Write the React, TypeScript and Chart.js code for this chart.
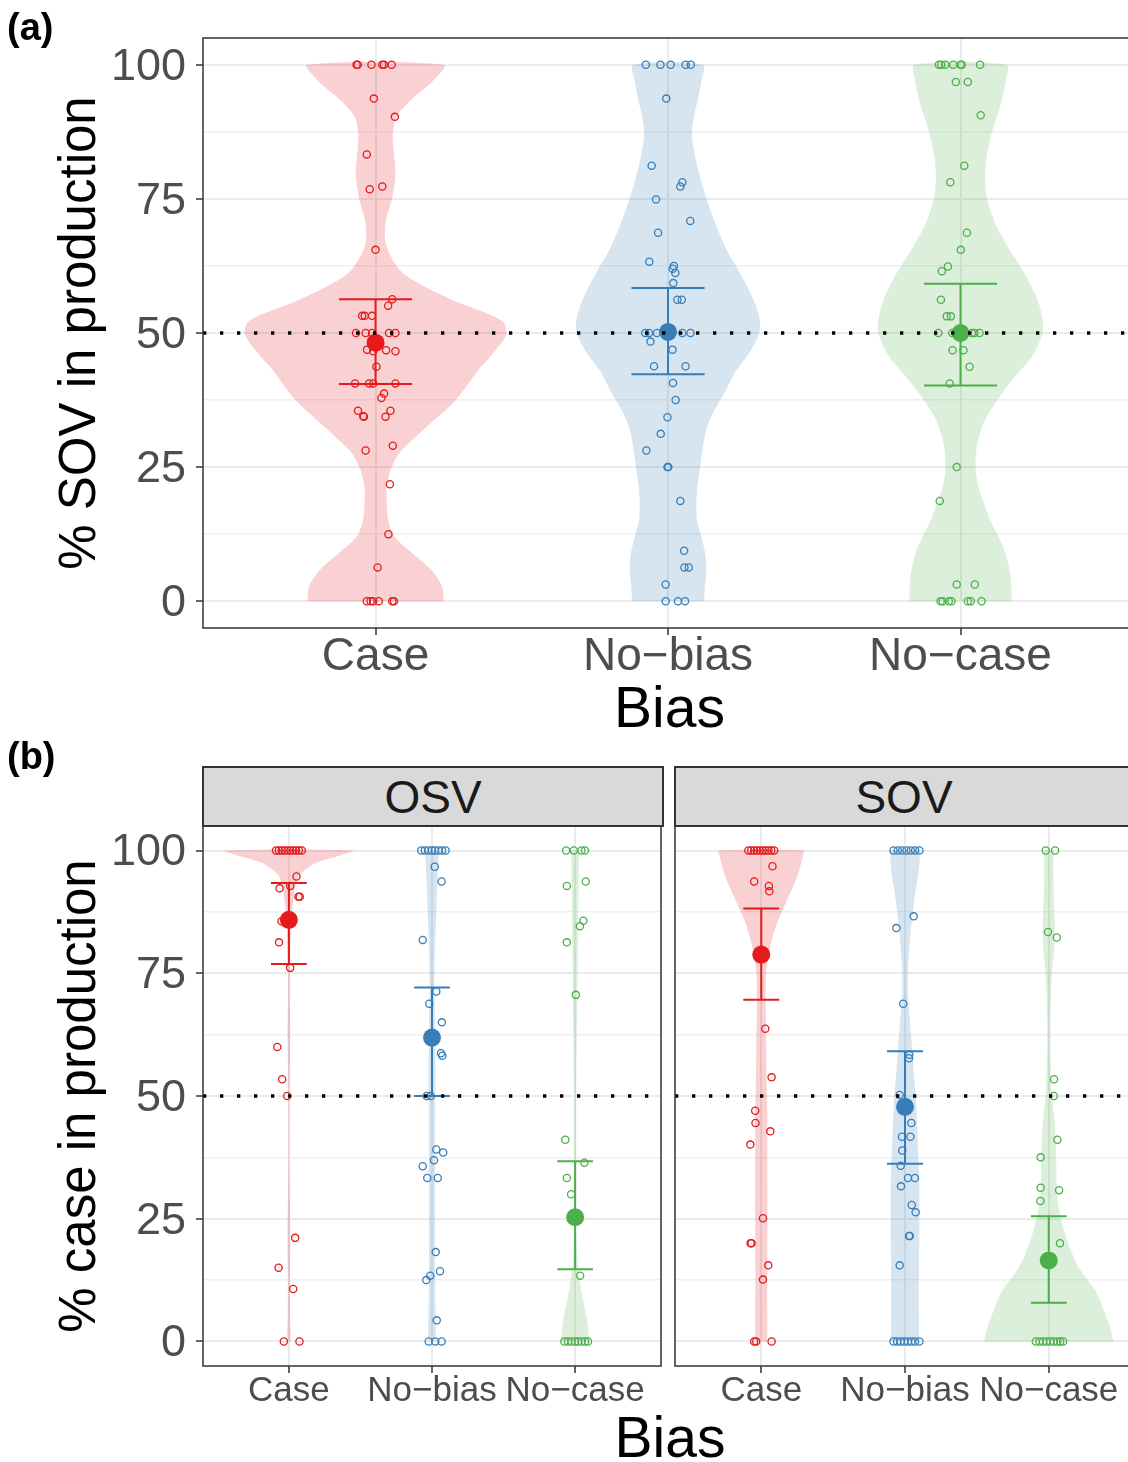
import React, { useEffect, useRef } from 'react';
import { Chart, registerables } from 'chart.js';

Chart.register(...registerables);

const FONT = '"Liberation Sans", Arial, Helvetica, sans-serif';
Chart.defaults.font.family = FONT;

// ---------- shared ----------
const categories = ['Case', 'No\u2212bias', 'No\u2212case'];
const COLORS = ['#E41A1C', '#377EB8', '#4DAF4A'];
const FILLS = ['rgba(228,26,28,0.2)', 'rgba(55,126,184,0.2)', 'rgba(77,175,74,0.2)'];
const yTickValues = [0, 12.5, 25, 37.5, 50, 62.5, 75, 87.5, 100];
const referenceLevel = 50;

// ---------- panel (a): % SOV in production ----------
const levelsA = [0, 2.7, 5.8, 8.9, 12, 15.1, 18.2, 21.3, 24.4, 27.5, 30.6, 33.7, 36.8, 39.9, 43, 46.1, 49.8, 52.3, 56.1, 61, 66, 70.4, 75.3, 79.6, 84, 87.1, 90.2, 93.3, 97, 100];
const caseWidthA = [0.233, 0.228, 0.191, 0.127, 0.065, 0.043, 0.038, 0.038, 0.051, 0.08, 0.137, 0.199, 0.262, 0.309, 0.35, 0.4, 0.447, 0.432, 0.265, 0.097, 0.038, 0.034, 0.057, 0.068, 0.062, 0.059, 0.071, 0.118, 0.196, 0.234];
const noBiasWidthA = [0.123, 0.126, 0.131, 0.127, 0.114, 0.099, 0.097, 0.1, 0.108, 0.116, 0.125, 0.142, 0.171, 0.203, 0.233, 0.276, 0.311, 0.314, 0.293, 0.248, 0.196, 0.162, 0.13, 0.107, 0.089, 0.082, 0.088, 0.101, 0.114, 0.119];
const noCaseWidthA = [0.174, 0.174, 0.168, 0.154, 0.13, 0.102, 0.08, 0.061, 0.052, 0.053, 0.063, 0.083, 0.117, 0.157, 0.205, 0.25, 0.28, 0.281, 0.264, 0.22, 0.163, 0.119, 0.09, 0.084, 0.093, 0.106, 0.123, 0.141, 0.155, 0.157];

const caseValuesA = [100, 100, 100, 100, 100, 100, 93.7, 90.3, 83.3, 76.8, 77.3, 65.5, 56.3, 55.1, 53.2, 53.2, 53.2, 50, 50, 50, 50, 50, 46.9, 46.6, 46.8, 46.6, 43.7, 40.6, 40.6, 40.6, 40.6, 38.7, 37.9, 35.5, 34.4, 34.5, 35.5, 34.4, 28.1, 29.0, 21.8, 12.5, 6.3, 0, 0, 0, 0, 0, 0];
const caseJitterA = [-0.065, -0.061, -0.014, 0.023, 0.029, 0.055, -0.006, 0.066, -0.03, -0.02, 0.023, 0.0, 0.057, 0.043, -0.046, -0.037, -0.012, -0.067, -0.034, -0.012, 0.046, 0.068, -0.029, -0.008, 0.036, 0.068, 0.003, -0.07, -0.022, -0.008, 0.068, 0.029, 0.02, -0.06, -0.04, -0.042, 0.051, 0.034, -0.034, 0.059, 0.049, 0.044, 0.007, -0.03, -0.017, -0.008, 0.011, 0.057, 0.063];
const noBiasValuesA = [100, 100, 100, 100, 100, 93.7, 81.2, 78.1, 77.3, 74.9, 70.9, 68.7, 63.3, 62.5, 62.0, 61.2, 59.3, 56.2, 56.2, 50, 50, 50, 50, 50, 48.4, 46.9, 43.8, 43.8, 40.7, 37.5, 34.3, 31.2, 28.1, 25.0, 25.0, 18.7, 9.4, 6.3, 6.3, 3.1, 0, 0, 0];
const noBiasJitterA = [-0.076, -0.026, 0.009, 0.06, 0.078, -0.006, -0.056, 0.049, 0.042, -0.041, 0.076, -0.034, -0.064, 0.02, 0.016, 0.025, 0.018, 0.032, 0.047, -0.078, -0.065, -0.038, 0.049, 0.077, -0.06, 0.015, -0.048, 0.06, 0.017, 0.026, -0.002, -0.025, -0.074, -0.002, 0.001, 0.042, 0.055, 0.056, 0.071, -0.008, -0.008, 0.034, 0.058];
const noCaseValuesA = [100, 100, 100, 100, 100, 100, 100, 96.8, 96.8, 90.6, 81.2, 78.1, 68.7, 65.5, 62.4, 61.5, 56.2, 53.1, 53.1, 50, 50, 50, 50, 50, 50, 46.8, 46.8, 43.7, 40.6, 25.0, 18.7, 3.1, 3.1, 0, 0, 0, 0, 0, 0, 0];
const noCaseJitterA = [-0.074, -0.066, -0.052, -0.025, 0.0, 0.004, 0.067, -0.016, 0.025, 0.069, 0.013, -0.035, 0.022, 0.001, -0.043, -0.064, -0.067, -0.047, -0.033, -0.076, -0.028, 0.01, 0.039, 0.048, 0.065, -0.027, 0.01, 0.031, -0.037, -0.013, -0.071, -0.013, 0.049, -0.068, -0.061, -0.04, -0.031, 0.025, 0.035, 0.072];

const meansA = [48.2, 50.2, 50.0];
const lowerA = [40.5, 42.3, 40.2];
const upperA = [56.3, 58.4, 59.2];

// ---------- panel (b): % case in production ----------
const levelsB = [0, 2.5, 5, 10, 15, 20, 25, 30, 35, 40, 45, 50, 55, 60, 65, 70, 75, 80, 85, 90, 92.5, 95, 97.5, 99, 100];
const osvCaseWidth = [0.012, 0.011, 0.009, 0.007, 0.008, 0.01, 0.009, 0.006, 0.004, 0.003, 0.003, 0.004, 0.006, 0.009, 0.009, 0.006, 0.006, 0.01, 0.014, 0.031, 0.045, 0.075, 0.19, 0.36, 0.448];
const osvNoBiasWidth = [0.026, 0.026, 0.025, 0.023, 0.022, 0.021, 0.021, 0.021, 0.022, 0.022, 0.022, 0.023, 0.024, 0.023, 0.021, 0.018, 0.017, 0.021, 0.027, 0.033, 0.036, 0.04, 0.044, 0.047, 0.048];
const osvNoCaseWidth = [0.098, 0.092, 0.08, 0.045, 0.02, 0.01, 0.008, 0.008, 0.008, 0.008, 0.008, 0.008, 0.009, 0.011, 0.013, 0.015, 0.017, 0.019, 0.021, 0.023, 0.024, 0.025, 0.026, 0.027, 0.027];
const sovCaseWidth = [0.042, 0.042, 0.042, 0.041, 0.041, 0.042, 0.043, 0.043, 0.042, 0.042, 0.042, 0.039, 0.036, 0.035, 0.032, 0.031, 0.034, 0.059, 0.107, 0.18, 0.22, 0.254, 0.278, 0.29, 0.296];
const sovNoBiasWidth = [0.098, 0.098, 0.097, 0.096, 0.097, 0.099, 0.1, 0.1, 0.097, 0.09, 0.083, 0.075, 0.06, 0.048, 0.035, 0.022, 0.02, 0.03, 0.045, 0.065, 0.078, 0.092, 0.1, 0.103, 0.104];
const sovNoCaseWidth = [0.45, 0.43, 0.4, 0.33, 0.21, 0.135, 0.085, 0.058, 0.053, 0.05, 0.04, 0.022, 0.015, 0.011, 0.011, 0.014, 0.022, 0.038, 0.042, 0.035, 0.033, 0.032, 0.032, 0.032, 0.032];

const osvCaseValues = [100, 100, 100, 100, 100, 100, 100, 100, 100, 100, 94.7, 92.8, 92.3, 90.6, 90.6, 85.6, 81.3, 76.1, 60.0, 53.4, 50.0, 21.1, 15.0, 10.7, 0, 0];
const osvCaseJitter = [-0.09, -0.07, -0.05, -0.03, -0.01, 0.01, 0.03, 0.05, 0.07, 0.09, 0.053, 0.009, -0.065, 0.067, 0.076, -0.051, -0.069, 0.009, -0.081, -0.047, -0.012, 0.044, -0.072, 0.03, -0.035, 0.074];
const osvNoBiasValues = [100, 100, 100, 100, 100, 100, 100, 100, 96.7, 93.7, 81.8, 71.3, 68.8, 65.0, 58.7, 58.2, 50, 50, 39.1, 38.5, 36.9, 35.7, 33.3, 33.3, 18.2, 14.3, 13.4, 12.5, 4.3, 0, 0, 0];
const osvNoBiasJitter = [-0.075, -0.05, -0.025, 0, 0.02, 0.045, 0.07, 0.095, 0.019, 0.067, -0.065, 0.03, -0.019, 0.069, 0.063, 0.072, -0.037, -0.009, 0.03, 0.078, 0.014, -0.065, -0.033, 0.04, 0.026, 0.056, -0.012, -0.04, 0.033, -0.023, 0.023, 0.067];
const osvNoCaseValues = [100, 100, 100, 100, 93.7, 92.8, 85.7, 84.6, 81.3, 70.6, 41.1, 36.4, 33.3, 30.0, 13.4, 0, 0, 0, 0, 0, 0, 0, 0];
const osvNoCaseJitter = [-0.063, -0.009, 0.044, 0.069, 0.074, -0.058, 0.058, 0.033, -0.058, 0.005, -0.069, 0.065, -0.058, -0.028, 0.035, -0.075, -0.05, -0.025, 0, 0.02, 0.045, 0.07, 0.09];

const sovCaseValues = [100, 100, 100, 100, 100, 100, 100, 100, 100, 100, 96.8, 93.7, 92.8, 91.7, 63.7, 53.8, 47.0, 44.5, 42.8, 40.1, 25.1, 20.0, 20.0, 15.5, 12.6, 0, 0, 0];
const sovCaseJitter = [-0.09, -0.07, -0.05, -0.03, -0.01, 0.01, 0.03, 0.05, 0.07, 0.09, 0.078, -0.049, 0.053, 0.056, 0.028, 0.072, -0.042, -0.04, 0.063, -0.076, 0.012, -0.074, -0.067, 0.049, 0.012, -0.049, -0.035, 0.072];
const sovNoBiasValues = [100, 100, 100, 100, 100, 100, 100, 86.6, 84.2, 68.8, 58.4, 57.7, 50.2, 44.5, 41.7, 41.7, 38.9, 35.8, 33.3, 33.3, 31.6, 27.8, 26.3, 21.5, 21.5, 15.5, 0, 0, 0, 0, 0, 0, 0, 0];
const sovNoBiasJitter = [-0.08, -0.05, -0.02, 0.01, 0.04, 0.07, 0.1, 0.06, -0.06, -0.012, 0.03, 0.028, -0.037, 0.044, -0.021, 0.037, -0.019, -0.03, 0.021, 0.069, -0.028, 0.047, 0.074, 0.028, 0.033, -0.037, -0.08, -0.055, -0.03, -0.005, 0.02, 0.045, 0.07, 0.1];
const sovNoCaseValues = [100, 100, 83.4, 82.3, 53.4, 50.0, 41.1, 37.5, 31.3, 30.8, 28.6, 20.0, 0, 0, 0, 0, 0, 0, 0, 0, 0];
const sovNoCaseJitter = [-0.021, 0.044, -0.005, 0.056, 0.037, 0.035, 0.06, -0.056, -0.056, 0.072, -0.058, 0.078, -0.09, -0.065, -0.04, -0.015, 0.01, 0.035, 0.06, 0.08, 0.1];

const meansOSV = [85.9, 61.9, 25.3];
const lowerOSV = [76.9, 50.0, 14.7];
const upperOSV = [93.4, 72.1, 36.7];
const meansSOV = [78.8, 47.8, 16.5];
const lowerSOV = [69.6, 36.2, 7.9];
const upperSOV = [88.2, 59.1, 25.5];

// ---------- helpers ----------
interface Group { values: number[]; jitter: number[]; widths: number[] }

function violinOutline(center: number, levels: number[], widths: number[]) {
  const pts: { x: number; y: number }[] = [];
  for (let k = 0; k < levels.length; k++) pts.push({ x: center + widths[k], y: levels[k] });
  for (let k = levels.length - 1; k >= 0; k--) pts.push({ x: center - widths[k], y: levels[k] });
  return pts;
}

const CAP = 0.125;
function errorBarPath(center: number, lo: number, hi: number) {
  return [
    { x: center - CAP, y: hi }, { x: center + CAP, y: hi }, { x: center, y: null },
    { x: center, y: hi }, { x: center, y: lo }, { x: center, y: null },
    { x: center - CAP, y: lo }, { x: center + CAP, y: lo },
  ];
}

const framePlugin = {
  id: 'panelFrame',
  afterDraw(chart: any) {
    const { ctx, chartArea: a } = chart;
    ctx.save();
    ctx.strokeStyle = '#333333';
    ctx.lineWidth = 1.5;
    ctx.strokeRect(a.left, a.top, a.right - a.left, a.bottom - a.top);
    ctx.restore();
  },
};

interface PanelSpec {
  groups: Group[]; levels: number[]; means: number[]; lowers: number[]; uppers: number[];
  xMin: number; xMax: number; padding: any; yWidth: number; xHeight: number;
  showY: boolean; yTitle?: string; xTitle?: string; xFont: number; xPad: number;
}

function panelConfig(p: PanelSpec): any {
  const datasets: any[] = [];
  datasets.push({
    type: 'line', data: [{ x: p.xMin, y: referenceLevel }, { x: p.xMax, y: referenceLevel }],
    borderColor: '#000000', borderWidth: 3.3, borderDash: [3.3, 13.7], borderCapStyle: 'butt',
    pointRadius: 0, fill: false, order: 0,
  });
  p.groups.forEach((g, i) => {
    const c = i + 1;
    datasets.push({
      type: 'line', data: violinOutline(c, p.levels, g.widths), fill: 'shape',
      backgroundColor: FILLS[i], borderColor: 'rgba(0,0,0,0)', borderWidth: 0,
      pointRadius: 0, tension: 0.3, order: 5,
    });
    datasets.push({
      type: 'scatter', data: g.values.map((v, k) => ({ x: c + g.jitter[k], y: v })),
      pointRadius: 3.6, borderWidth: 1.3, borderColor: COLORS[i], backgroundColor: 'rgba(0,0,0,0)', order: 3,
    });
    datasets.push({
      type: 'line', data: errorBarPath(c, p.lowers[i], p.uppers[i]), borderColor: COLORS[i],
      borderWidth: 2, pointRadius: 0, spanGaps: false, tension: 0, fill: false, order: 2,
    });
    datasets.push({
      type: 'scatter', data: [{ x: c, y: p.means[i] }], pointRadius: 9, borderWidth: 0,
      backgroundColor: COLORS[i], borderColor: COLORS[i], order: 1,
    });
  });

  return {
    type: 'scatter',
    data: { datasets },
    plugins: [framePlugin],
    options: {
      responsive: false, animation: false, events: [],
      layout: { padding: p.padding },
      plugins: { legend: { display: false }, tooltip: { enabled: false }, title: { display: false } },
      scales: {
        x: {
          type: 'linear', min: p.xMin, max: p.xMax,
          afterBuildTicks: (s: any) => { s.ticks = [1, 2, 3].map((v) => ({ value: v })); },
          afterFit: (s: any) => { s.height = p.xHeight; },
          ticks: {
            autoSkip: false, maxRotation: 0, minRotation: 0,
            callback: (v: any) => categories[Math.round(Number(v)) - 1] ?? '',
            font: { family: FONT, size: p.xFont, lineHeight: 1 }, color: '#4D4D4D', padding: p.xPad,
          },
          grid: { color: '#EBEBEB', lineWidth: 2, drawTicks: true, tickLength: 7, tickWidth: 1.5, tickColor: '#333333' },
          border: { display: false },
          title: p.xTitle
            ? { display: true, text: p.xTitle, font: { family: FONT, size: 57 }, color: '#000000', padding: { top: 0, bottom: 0 } }
            : { display: false },
        },
        y: {
          type: 'linear', min: -5, max: 105,
          afterBuildTicks: (s: any) => { s.ticks = yTickValues.map((v) => ({ value: v })); },
          afterFit: (s: any) => { s.width = p.yWidth; },
          ticks: {
            display: p.showY, autoSkip: false,
            callback: (v: any) => (Number(v) % 25 === 0 ? String(v) : ''),
            font: { family: FONT, size: 45, lineHeight: 1 }, color: '#4D4D4D', padding: 10, labelOffset: 2.5,
          },
          grid: {
            color: (c: any) => (c.tick && c.tick.value % 25 === 0 ? '#EBEBEB' : '#F0F0F0'),
            lineWidth: (c: any) => (c.tick && c.tick.value % 25 === 0 ? 2 : 1.5),
            drawTicks: p.showY, tickLength: 7, tickWidth: 1.5,
            tickColor: (c: any) => (c.tick && c.tick.value % 25 === 0 ? '#333333' : 'rgba(0,0,0,0)'),
          },
          border: { display: false },
          title: p.yTitle
            ? { display: true, text: p.yTitle, font: { family: FONT, size: 51 }, color: '#000000', padding: { top: 50, bottom: 0 } }
            : { display: false },
        },
      },
    },
  };
}

export default function App() {
  const aRef = useRef<HTMLCanvasElement>(null);
  const bLeftRef = useRef<HTMLCanvasElement>(null);
  const bRightRef = useRef<HTMLCanvasElement>(null);

  useEffect(() => {
    const charts: Chart[] = [];
    charts.push(new Chart(aRef.current as HTMLCanvasElement, panelConfig({
      groups: [
        { values: caseValuesA, jitter: caseJitterA, widths: caseWidthA },
        { values: noBiasValuesA, jitter: noBiasJitterA, widths: noBiasWidthA },
        { values: noCaseValuesA, jitter: noCaseJitterA, widths: noCaseWidthA },
      ],
      levels: levelsA, means: meansA, lowers: lowerA, uppers: upperA,
      xMin: 0.41, xMax: 3.6, padding: { top: 38, left: 0, right: 7, bottom: 0 },
      yWidth: 203, xHeight: 117, showY: true, yTitle: '% SOV in production', xTitle: 'Bias',
      xFont: 46, xPad: -1,
    })));
    charts.push(new Chart(bLeftRef.current as HTMLCanvasElement, panelConfig({
      groups: [
        { values: osvCaseValues, jitter: osvCaseJitter, widths: osvCaseWidth },
        { values: osvNoBiasValues, jitter: osvNoBiasJitter, widths: osvNoBiasWidth },
        { values: osvNoCaseValues, jitter: osvNoCaseJitter, widths: osvNoCaseWidth },
      ],
      levels: levelsB, means: meansOSV, lowers: lowerOSV, uppers: upperOSV,
      xMin: 0.4, xMax: 3.6, padding: { top: 826, left: 0, right: 7, bottom: 0 },
      yWidth: 203, xHeight: 96, showY: true, yTitle: '% case in production',
      xFont: 35, xPad: 1,
    })));
    charts.push(new Chart(bRightRef.current as HTMLCanvasElement, panelConfig({
      groups: [
        { values: sovCaseValues, jitter: sovCaseJitter, widths: sovCaseWidth },
        { values: sovNoBiasValues, jitter: sovNoBiasJitter, widths: sovNoBiasWidth },
        { values: sovNoCaseValues, jitter: sovNoCaseJitter, widths: sovNoCaseWidth },
      ],
      levels: levelsB, means: meansSOV, lowers: lowerSOV, uppers: upperSOV,
      xMin: 0.4, xMax: 3.6, padding: { top: 826, left: 0, right: 10, bottom: 0 },
      yWidth: 675, xHeight: 96, showY: false,
      xFont: 35, xPad: 1,
    })));
    return () => charts.forEach((c) => c.destroy());
  }, []);

  const abs: React.CSSProperties = { position: 'absolute' };
  const stripStyle: React.CSSProperties = {
    position: 'absolute', top: 766, height: 61, boxSizing: 'border-box', background: '#D9D9D9',
    border: '2px solid #333333', display: 'flex', alignItems: 'center', justifyContent: 'center',
    fontFamily: FONT, fontSize: 46, color: '#1A1A1A', lineHeight: '46px',
  };

  return (
    <div style={{ position: 'absolute', left: 0, top: 0, width: 1128, height: 1462, overflow: 'hidden', background: '#FFFFFF' }}>
      <canvas ref={aRef} width={1145} height={745} style={{ ...abs, left: 0, top: 0 }} />
      <canvas ref={bLeftRef} width={670} height={1462} style={{ ...abs, left: 0, top: 0 }} />
      <canvas ref={bRightRef} width={1145} height={1462} style={{ ...abs, left: 0, top: 0 }} />
      <div style={{ ...abs, left: 7, top: 8, fontFamily: FONT, fontWeight: 'bold', fontSize: 38, lineHeight: '38px', color: '#000' }}>(a)</div>
      <div style={{ ...abs, left: 7, top: 737, fontFamily: FONT, fontWeight: 'bold', fontSize: 38, lineHeight: '38px', color: '#000' }}>(b)</div>
      <div style={{ ...stripStyle, left: 202, width: 462 }}>OSV</div>
      <div style={{ ...stripStyle, left: 674, width: 472, paddingRight: 12 }}>SOV</div>
      <div style={{ ...abs, left: 470, width: 400, top: 1409, textAlign: 'center', fontFamily: FONT, fontSize: 57, lineHeight: '57px', color: '#000' }}>Bias</div>
    </div>
  );
}
